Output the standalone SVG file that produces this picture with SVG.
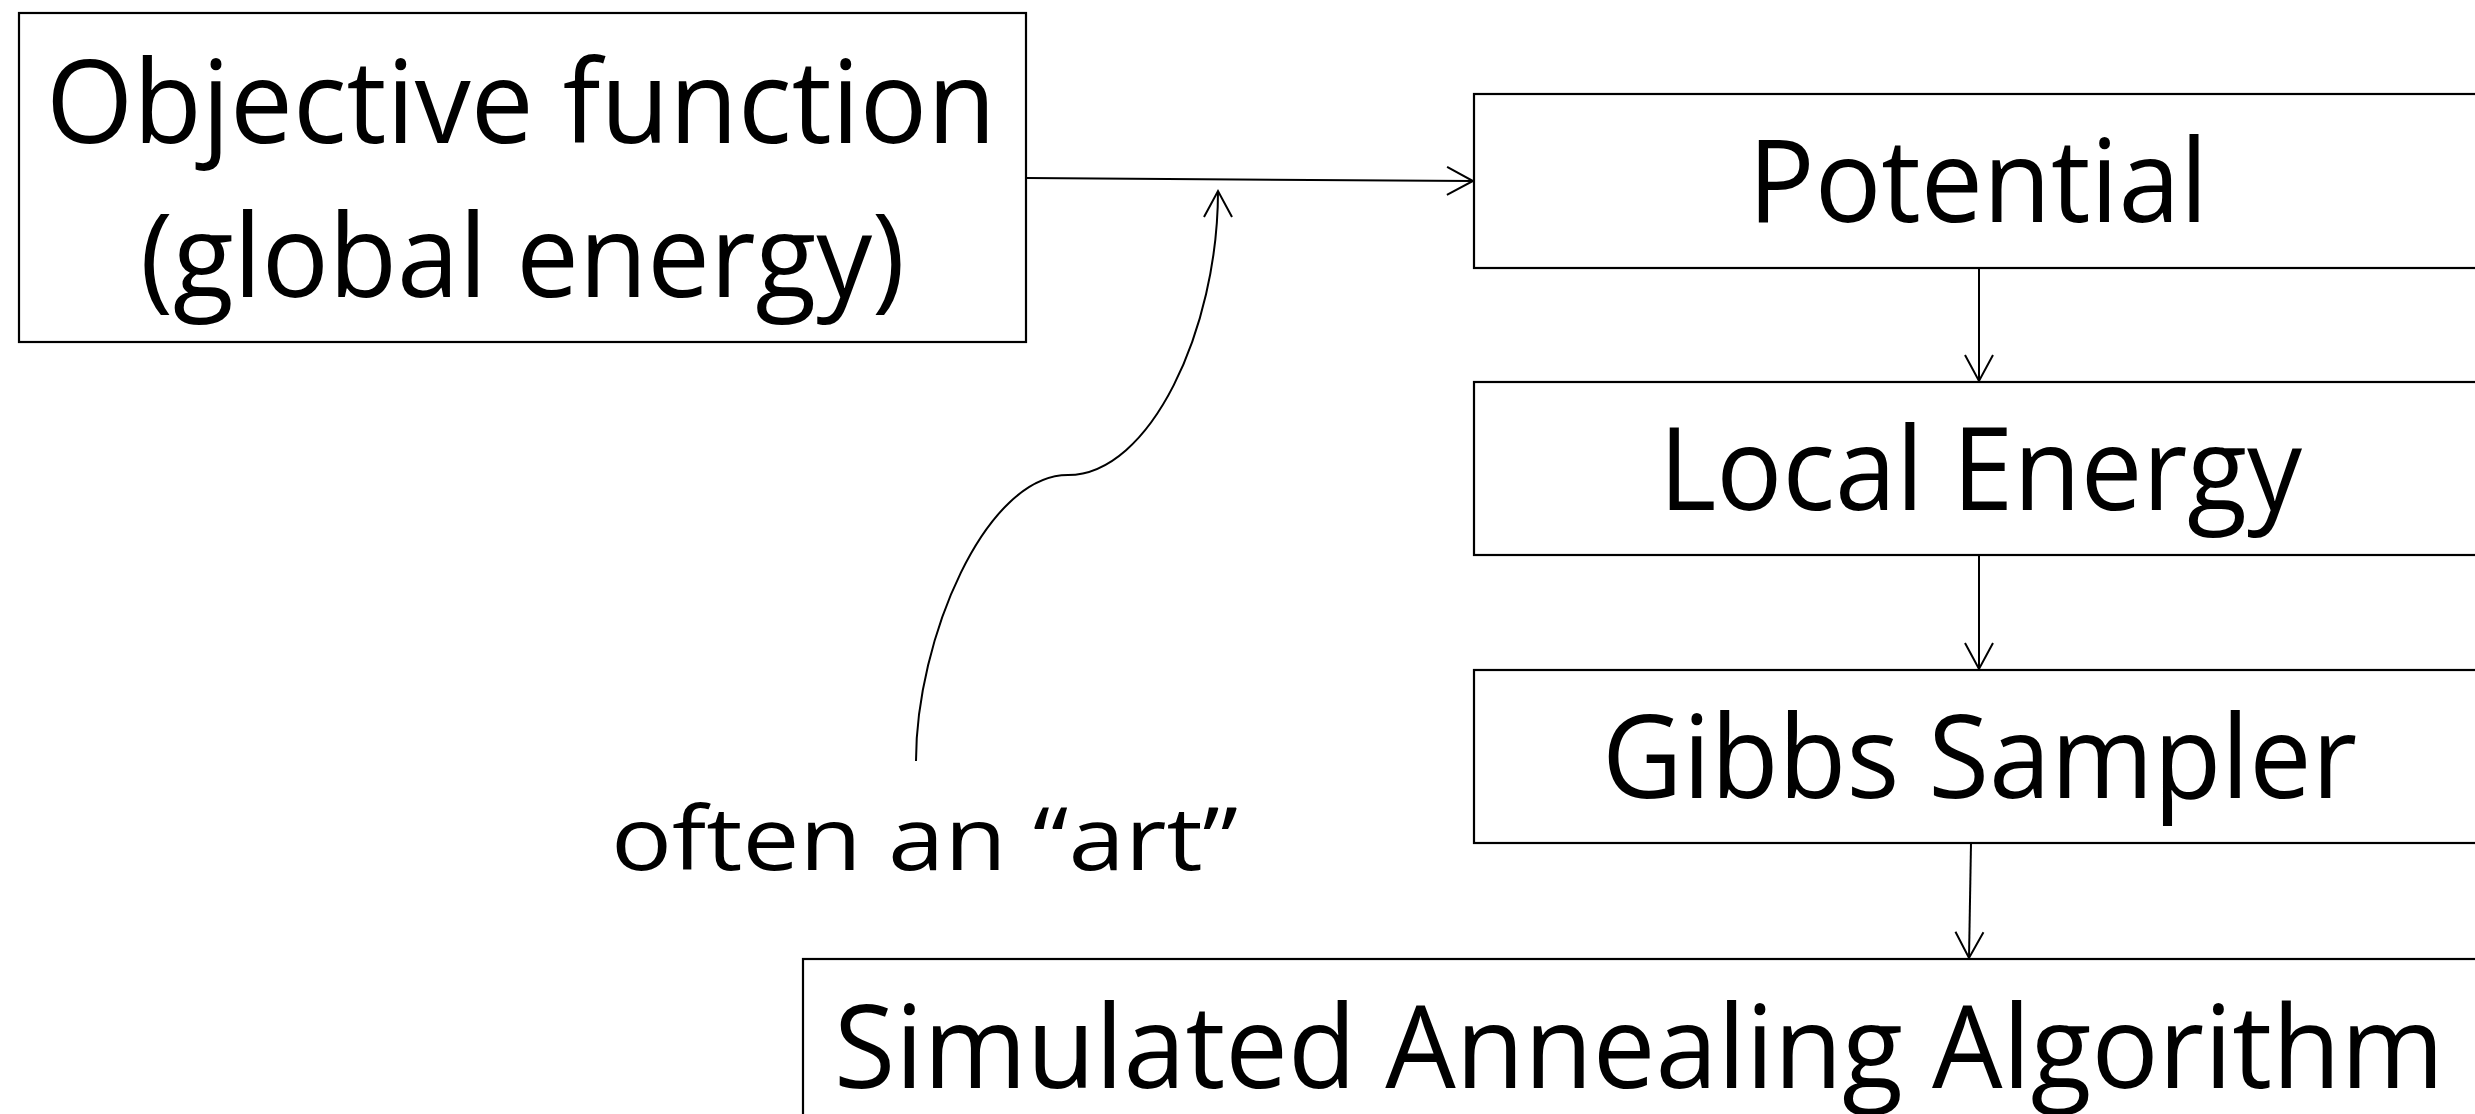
<svg xmlns="http://www.w3.org/2000/svg" width="2475" height="1114" viewBox="0 0 2475 1114">
<style>
.box{fill:#fff;stroke:#000;stroke-width:2.2}
.t{font-family:"Open Sans","Noto Sans","Liberation Sans",sans-serif;font-size:115px;fill:#000}
.c{fill:none;stroke:#000;stroke-width:2}
</style>
<defs>
<marker id="ah" markerUnits="userSpaceOnUse" markerWidth="40" markerHeight="40" viewBox="-30 -20 40 40" refX="0" refY="0" orient="auto">
<path d="M -26 -14 L 0 0 L -26 14" fill="none" stroke="#000" stroke-width="2"/>
</marker>
</defs>
<rect width="2475" height="1114" fill="#fff"/>
<g id="objective">
<rect class="box" x="19" y="13" width="1007" height="329"/>
<text class="t" x="46" y="143" textLength="950" lengthAdjust="spacingAndGlyphs">Objective function</text>
<text class="t" x="140" y="297" textLength="765" lengthAdjust="spacingAndGlyphs">(global energy)</text>
</g>
<g id="potential">
<rect class="box" x="1474" y="94" width="1010" height="174"/>
<text class="t" x="1748" y="222" textLength="460" lengthAdjust="spacingAndGlyphs">Potential</text>
</g>
<g id="local-energy">
<rect class="box" x="1474" y="382" width="1010" height="173"/>
<text class="t" x="1659" y="510" textLength="643" lengthAdjust="spacingAndGlyphs">Local Energy</text>
</g>
<g id="gibbs">
<rect class="box" x="1474" y="670" width="1010" height="173"/>
<text class="t" x="1602" y="798" textLength="755" lengthAdjust="spacingAndGlyphs">Gibbs Sampler</text>
</g>
<g id="annealing">
<rect class="box" x="803" y="959" width="1690" height="200"/>
<text class="t" x="834" y="1088" textLength="1610" lengthAdjust="spacingAndGlyphs">Simulated Annealing Algorithm</text>
</g>
<g id="note">
<text class="t" style="font-size:88px" x="611" y="870" textLength="627" lengthAdjust="spacingAndGlyphs">often an “art”</text>
</g>
<g id="connectors">
<path class="c" d="M 1027 178 L 1473 181" marker-end="url(#ah)"/>
<path class="c" d="M 1979 268 L 1979 381" marker-end="url(#ah)"/>
<path class="c" d="M 1979 555 L 1979 669" marker-end="url(#ah)"/>
<path class="c" d="M 1971 843 L 1969 958" marker-end="url(#ah)"/>
<path class="c" d="M 916 761 C 916 640 985 475 1068 475 C 1150 475 1218 330 1218 191" marker-end="url(#ah)"/>
</g>
</svg>
